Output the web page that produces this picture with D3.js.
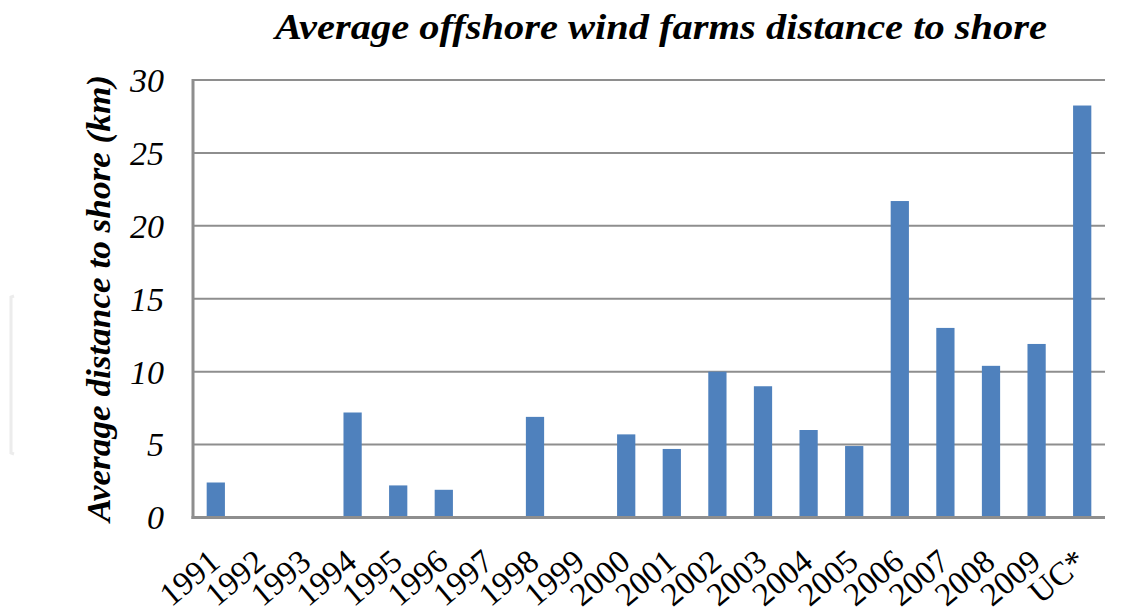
<!DOCTYPE html>
<html><head><meta charset="utf-8">
<script src="https://cdn.jsdelivr.net/npm/d3@7"></script>
<style>body{margin:0;background:#fff}svg{display:block}
.serif{font-family:"Liberation Serif","Times New Roman",Times,serif}</style>
</head><body>
<svg id="c" width="1140" height="610"></svg>
<script>
const categories = ["1991","1992","1993","1994","1995","1996","1997","1998","1999","2000","2001","2002","2003","2004","2005","2006","2007","2008","2009","UC*"];
const values = [2.4,0,0,7.2,2.2,1.9,0,6.9,0,5.7,4.7,10,9,6,4.9,21.7,13,10.4,11.9,28.25];
const yTicks = [0,5,10,15,20,25,30];
const title = "Average offshore wind farms distance to shore";
const yTitle = "Average distance to shore (km)";

const svg = d3.select("#c");
const m = {left:193, right:1105, top:80, bottom:517.5};
const x = d3.scaleBand().domain(categories).range([m.left, m.right]).paddingInner(0.6).paddingOuter(0.3);
const y = d3.scaleLinear().domain([0,30]).range([m.bottom, m.top]);

// faint bracket artifact
svg.append("path").attr("d","M14,296 L11,297 L11,453 L14,454").attr("fill","none").attr("stroke","#ececec").attr("stroke-width",3);

// gridlines
svg.append("g").selectAll("line").data(yTicks.filter(d=>d>0)).join("line")
  .attr("x1",m.left).attr("x2",m.right).attr("y1",d=>y(d)).attr("y2",d=>y(d))
  .attr("stroke","#8e8e8e").attr("stroke-width",2);

// bars
svg.append("g").selectAll("rect").data(values).join("rect")
  .attr("x",(d,i)=>x(categories[i])).attr("width",x.bandwidth())
  .attr("y",d=>y(d)).attr("height",d=>y(0)-y(d))
  .attr("fill","#4f81bd");

// axes lines
svg.append("line").attr("x1",m.left).attr("x2",m.left).attr("y1",m.top-1).attr("y2",m.bottom+1.5).attr("stroke","#8e8e8e").attr("stroke-width",3);
svg.append("line").attr("x1",m.left-1.5).attr("x2",m.right).attr("y1",m.bottom).attr("y2",m.bottom).attr("stroke","#8e8e8e").attr("stroke-width",3);

// y tick labels
svg.append("g").selectAll("text").data(yTicks).join("text")
  .attr("class","serif")
  .attr("x",164).attr("y",d=>y(d)).attr("dy","0.35em")
  .attr("text-anchor","end")
  .style("font-style","italic").style("font-size","34px")
  .attr("fill","#000").text(d=>d);

// x tick labels
svg.append("g").selectAll("text").data(categories).join("text")
  .attr("class","serif")
  .attr("transform",d=>`translate(${x(d)+x.bandwidth()/2+6},565) rotate(-40)`)
  .attr("text-anchor","end")
  .style("font-size","33px")
  .attr("fill","#000").text(d=>d);

// title
svg.append("text").attr("class","serif").attr("x",661).attr("y",39).attr("text-anchor","middle")
  .attr("textLength",772).attr("lengthAdjust","spacingAndGlyphs")
  .style("font-style","italic").style("font-weight","bold").style("font-size","36px")
  .text(title);

// y axis title
svg.append("text").attr("class","serif").attr("transform","translate(110,298.5) rotate(-90)").attr("text-anchor","middle")
  .attr("textLength",447).attr("lengthAdjust","spacingAndGlyphs")
  .style("font-style","italic").style("font-weight","bold").style("font-size","33px")
  .text(yTitle);
</script>
</body></html>
